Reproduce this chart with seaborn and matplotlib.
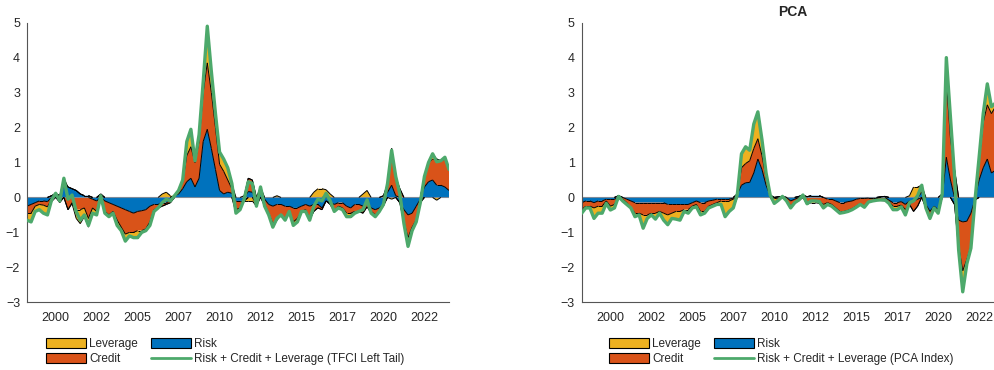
import numpy as np
import pandas as pd
import matplotlib
matplotlib.use("Agg")
import matplotlib.pyplot as plt
import seaborn as sns
from matplotlib.patches import Patch
from matplotlib.lines import Line2D
from matplotlib.collections import LineCollection

# ---------------- data (quarterly, 1998.25 ... 2024.0) ----------------
start_year = 1998.25
n_quarters = 104

# Left panel: TFCI left tail decomposition
tfci_risk = [
    -0.25, -0.20, -0.15, -0.10,
    -0.10, -0.12, 0.05, 0.10,
    0.05, 0.35, 0.30, 0.25,
    0.20, 0.10, 0.05, 0.05,
    -0.05, -0.10, 0.05, -0.10,
    -0.15, -0.20, -0.25, -0.30,
    -0.35, -0.40, -0.45, -0.40,
    -0.38, -0.35, -0.25, -0.20,
    -0.20, -0.15, -0.15, -0.10,
    0.05, 0.10, 0.25, 0.45,
    0.55, 0.30, 0.55, 1.60,
    1.95, 1.40, 0.80, 0.20,
    0.10, 0.15, 0.12, -0.10,
    -0.10, -0.10, 0.17, 0.15,
    -0.05, 0.10, -0.05, -0.20,
    -0.25, -0.20, -0.20, -0.25,
    -0.25, -0.30, -0.30, -0.25,
    -0.20, -0.25, -0.20, -0.20,
    -0.30, -0.10, -0.15, -0.20,
    -0.15, -0.15, -0.25, -0.30,
    -0.20, -0.20, -0.25, -0.15,
    -0.30, -0.35, -0.30, -0.20,
    0.15, 0.35, 0.05, -0.15,
    -0.35, -0.50, -0.45, -0.25,
    -0.05, 0.30, 0.45, 0.50,
    0.35, 0.35, 0.30, 0.20,
]
tfci_credit = [
    -0.20, -0.25, -0.10, -0.10,
    -0.12, -0.15, -0.05, 0.00,
    -0.10, 0.10, -0.35, -0.15,
    -0.35, -0.35, -0.30, -0.60,
    -0.25, -0.30, 0.05, -0.30,
    -0.35, -0.20, -0.40, -0.55,
    -0.70, -0.60, -0.55, -0.55,
    -0.57, -0.55, -0.45, -0.15,
    -0.10, -0.10, -0.05, -0.05,
    0.00, 0.10, 0.20, 0.75,
    0.90, 0.70, 1.05, 1.40,
    1.90, 1.60, 1.20, 0.75,
    0.65, 0.35, 0.13, -0.25,
    -0.20, 0.00, 0.38, 0.35,
    -0.15, 0.10, -0.15, -0.25,
    -0.50, -0.45, -0.30, -0.35,
    -0.15, -0.40, -0.30, -0.15,
    -0.15, -0.35, -0.20, -0.10,
    -0.05, 0.02, -0.05, -0.20,
    -0.10, -0.15, -0.20, -0.15,
    -0.20, -0.20, -0.20, -0.12,
    -0.10, -0.15, -0.10, 0.05,
    0.20, 1.05, 0.50, 0.25,
    -0.35, -0.65, -0.40, -0.40,
    -0.10, 0.30, 0.55, 0.60,
    0.75, 0.70, 0.80, 0.60,
]
tfci_leverage = [
    -0.20, -0.25, -0.15, -0.15,
    -0.23, -0.23, -0.07, 0.02,
    -0.05, 0.10, 0.00, -0.03,
    -0.25, -0.40, -0.25, -0.25,
    -0.15, -0.10, -0.05, -0.05,
    -0.05, -0.05, -0.15, -0.10,
    -0.20, -0.10, -0.15, -0.20,
    -0.05, -0.05, -0.10, -0.05,
    0.00, 0.10, 0.15, 0.05,
    0.00, 0.00, 0.05, 0.40,
    0.50, 0.05, 0.20, 0.30,
    1.05, 0.60, 0.40, 0.35,
    0.35, 0.35, 0.15, -0.10,
    -0.05, 0.05, -0.10, -0.10,
    -0.05, 0.10, -0.05, -0.05,
    -0.10, 0.05, 0.00, -0.05,
    0.00, -0.10, -0.10, 0.00,
    -0.05, -0.05, 0.15, 0.25,
    0.25, 0.20, 0.10, 0.00,
    -0.05, -0.05, -0.10, -0.10,
    -0.05, 0.00, 0.10, 0.20,
    -0.05, -0.05, 0.00, -0.05,
    0.05, -0.05, 0.05, 0.00,
    -0.05, -0.25, -0.10, -0.05,
    0.00, 0.00, 0.00, 0.15,
    -0.08, 0.00, 0.05, 0.00,
]

# Right panel: PCA decomposition
pca_risk = [
    -0.15, -0.10, -0.10, -0.15,
    -0.10, -0.10, -0.05, -0.05,
    -0.05, 0.05, 0.00, -0.05,
    -0.10, -0.15, -0.15, -0.15,
    -0.15, -0.15, -0.15, -0.15,
    -0.15, -0.20, -0.20, -0.20,
    -0.20, -0.20, -0.20, -0.15,
    -0.10, -0.15, -0.15, -0.10,
    -0.08, -0.05, -0.05, -0.05,
    -0.05, -0.02, 0.10, 0.35,
    0.42, 0.43, 0.70, 1.10,
    0.80, 0.35, 0.05, 0.00,
    0.02, 0.03, 0.00, -0.10,
    -0.05, 0.03, 0.05, 0.02,
    0.05, 0.05, 0.05, 0.00,
    -0.05, -0.05, -0.10, -0.15,
    -0.15, -0.12, -0.10, -0.05,
    -0.03, -0.03, -0.02, -0.02,
    -0.02, 0.02, 0.03, -0.08,
    -0.15, -0.15, -0.12, -0.20,
    -0.10, -0.10, -0.05, 0.15,
    -0.20, -0.40, -0.25, -0.35,
    0.00, 1.15, 0.50, -0.20,
    -0.65, -0.70, -0.68, -0.45,
    -0.05, 0.50, 0.85, 1.10,
    0.70, 0.78, 0.80, 0.80,
]
pca_credit = [
    -0.20, -0.15, -0.15, -0.15,
    -0.15, -0.15, -0.05, -0.20,
    -0.15, 0.00, -0.05, -0.10,
    -0.20, -0.30, -0.30, -0.35,
    -0.35, -0.30, -0.30, -0.25,
    -0.30, -0.30, -0.25, -0.20,
    -0.20, -0.15, -0.15, -0.10,
    -0.10, -0.25, -0.25, -0.15,
    -0.12, -0.10, -0.05, -0.05,
    -0.05, -0.03, 0.00, 0.50,
    0.55, 0.62, 0.70, 0.58,
    0.40, 0.20, 0.02, -0.02,
    -0.05, 0.00, -0.08, -0.15,
    -0.10, -0.05, 0.02, -0.15,
    -0.10, -0.10, -0.12, -0.20,
    -0.10, -0.15, -0.20, -0.25,
    -0.25, -0.25, -0.22, -0.20,
    -0.15, -0.22, -0.10, -0.08,
    -0.06, -0.07, -0.05, -0.05,
    -0.10, -0.10, -0.10, -0.15,
    -0.10, -0.30, -0.20, 0.10,
    -0.10, -0.15, -0.05, -0.05,
    0.10, 2.20, 1.20, 0.80,
    -0.75, -1.40, -1.10, -0.95,
    -0.02, 0.55, 1.30, 1.55,
    1.70, 1.82, 1.80, 1.60,
]
pca_leverage = [
    -0.10, -0.05, -0.05, -0.30,
    -0.20, -0.20, -0.07, -0.11,
    -0.10, -0.02, -0.05, -0.05,
    0.00, -0.10, -0.05, -0.38,
    -0.10, -0.05, -0.17, -0.05,
    -0.20, -0.28, -0.15, -0.22,
    -0.25, -0.05, -0.10, -0.05,
    -0.07, -0.10, -0.05, -0.05,
    -0.05, -0.05, -0.10, -0.45,
    -0.30, -0.25, 0.00, 0.40,
    0.48, 0.30, 0.70, 0.77,
    0.45, 0.15, 0.00, -0.15,
    -0.05, 0.00, -0.02, -0.05,
    0.00, -0.05, 0.00, -0.05,
    -0.05, -0.05, -0.05, -0.10,
    -0.05, -0.05, -0.05, -0.05,
    -0.03, -0.03, -0.03, -0.03,
    -0.02, -0.03, -0.01, 0.00,
    0.00, -0.02, -0.05, -0.04,
    -0.10, -0.10, -0.05, -0.15,
    0.05, 0.30, 0.30, 0.10,
    0.00, -0.05, 0.00, -0.05,
    0.00, 0.65, 0.60, 0.00,
    -0.10, -0.60, -0.12, -0.05,
    0.00, 0.10, 0.25, 0.60,
    0.20, 0.10, 0.10, 0.10,
]

tick_positions = [2000, 2002.5, 2005, 2007.5, 2010, 2012.5, 2015, 2017.5, 2020, 2022.5]
tick_labels = ["2000", "2002", "2005", "2007", "2010", "2012", "2015", "2017", "2020", "2022"]
y_ticks = [-3, -2, -1, 0, 1, 2, 3, 4, 5]

component_names = ["Risk", "Credit", "Leverage"]
line_labels = ["Risk + Credit + Leverage (TFCI Left Tail)",
               "Risk + Credit + Leverage (PCA Index)"]
panel_titles = ["", "PCA"]

# ---------------- style ----------------
sns.set_theme(style="white")
plt.rcParams["font.family"] = ["Liberation Sans", "DejaVu Sans"]
TXT = "#262626"
plt.rcParams["text.color"] = TXT
plt.rcParams["xtick.color"] = TXT
plt.rcParams["ytick.color"] = TXT
plt.rcParams["axes.edgecolor"] = TXT

colors = {"Risk": "#0072BD", "Credit": "#D95319", "Leverage": "#EDB120"}
GREEN = "#4DA96B"

t = start_year + 0.25 * np.arange(n_quarters)


def make_frame(risk, credit, lev):
    assert len(risk) == len(credit) == len(lev) == n_quarters
    df = pd.DataFrame({"date": t, "Risk": risk, "Credit": credit, "Leverage": lev})
    df["Total"] = df["Risk"] + df["Credit"] + df["Leverage"]
    return df


def edge_lines(ax, x, y):
    segs = []
    for i in range(len(x) - 1):
        if abs(y[i]) > 1e-9 or abs(y[i + 1]) > 1e-9:
            segs.append([(x[i], y[i]), (x[i + 1], y[i + 1])])
    ax.add_collection(LineCollection(segs, colors="black", linewidths=0.7, zorder=2.5))


frames = [make_frame(tfci_risk, tfci_credit, tfci_leverage),
          make_frame(pca_risk, pca_credit, pca_leverage)]

fig = plt.figure(figsize=(9.95, 3.7), dpi=100)
ax_w = 422 / 995
ax_h = (302.3 - 22.7) / 370
ax_y0 = 1 - 302.3 / 370
axes = [fig.add_axes([27 / 995, ax_y0, ax_w, ax_h]),
        fig.add_axes([581.7 / 995, ax_y0, ax_w, ax_h])]

for ax, df, title in zip(axes, frames, panel_titles):
    x = df["date"].to_numpy()
    pos_base = np.zeros(n_quarters)
    neg_base = np.zeros(n_quarters)
    levels = []
    for name in component_names:
        v = df[name].to_numpy()
        p = np.clip(v, 0, None)
        n = np.clip(v, None, 0)
        ax.fill_between(x, pos_base, pos_base + p, facecolor=colors[name],
                        edgecolor="none", linewidth=0, zorder=2)
        ax.fill_between(x, neg_base, neg_base + n, facecolor=colors[name],
                        edgecolor="none", linewidth=0, zorder=2)
        pos_base = pos_base + p
        neg_base = neg_base + n
        levels.append(pos_base.copy())
        levels.append(neg_base.copy())
    ax.axhline(0, color="#7d8a99", linewidth=0.8, zorder=2.4)
    for lv in levels:
        edge_lines(ax, x, lv)
    sns.lineplot(data=df, x="date", y="Total", ax=ax, color=GREEN, linewidth=2.4,
                 zorder=3, legend=False)
    ax.set_xlim(start_year, start_year + 0.25 * (n_quarters - 1))
    ax.set_ylim(-3, 5)
    ax.set_xticks(tick_positions)
    ax.set_xticklabels(tick_labels)
    ax.set_yticks(y_ticks)
    ax.set_xlabel("")
    ax.set_ylabel("")
    ax.tick_params(axis="both", direction="in", length=4, width=0.7, labelsize=9,
                   colors=TXT)
    ax.tick_params(axis="x", pad=7)
    ax.tick_params(axis="y", pad=5)
    for s in ["top", "right"]:
        ax.spines[s].set_visible(False)
    for s in ["left", "bottom"]:
        ax.spines[s].set_linewidth(0.8)
        ax.spines[s].set_color("#555555")
    if title:
        ax.set_title(title, fontsize=10, fontweight="bold", pad=5)

legend_x = [46 / 995, 609.3 / 995]
for lx, lab in zip(legend_x, line_labels):
    handles = [Patch(facecolor=colors["Leverage"], edgecolor="black", linewidth=0.8),
               Patch(facecolor=colors["Credit"], edgecolor="black", linewidth=0.8),
               Patch(facecolor=colors["Risk"], edgecolor="black", linewidth=0.8),
               Line2D([], [], color=GREEN, linewidth=2.0)]
    labels = ["Leverage", "Credit", "Risk", lab]
    fig.legend(handles, labels, loc="upper left", bbox_to_anchor=(lx, 0.086),
               ncol=2, frameon=False, fontsize=8.5, borderpad=0, borderaxespad=0,
               handlelength=3.4, handleheight=0.85, handletextpad=0.25,
               columnspacing=1.1, labelspacing=0.25)

fig.savefig("out.png", dpi=100)
